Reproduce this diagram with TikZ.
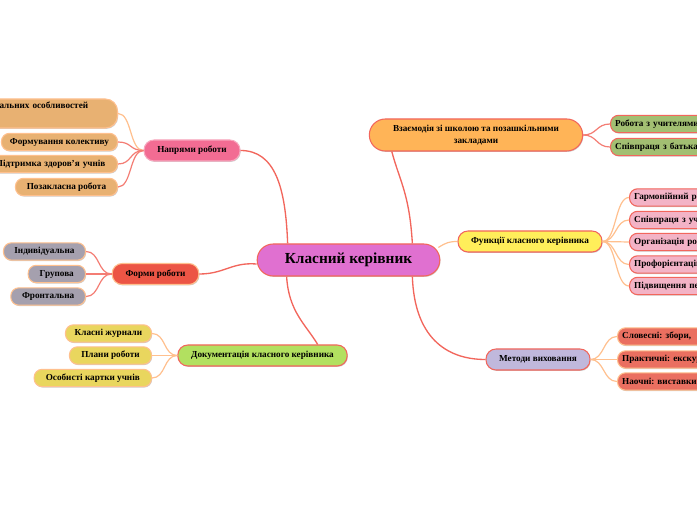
\documentclass[tikz,border=0pt]{standalone}
\usepackage{fontspec}
\setmainfont{Liberation Serif}
\usetikzlibrary{calc,shadows}
\frenchspacing

\definecolor{lineRed}{HTML}{F2665C}
\definecolor{linePeach}{HTML}{FFC08E}
\definecolor{rootFill}{HTML}{E070D0}
\definecolor{naprFill}{HTML}{F26C93}
\definecolor{tanFill}{HTML}{E8B172}
\definecolor{formFill}{HTML}{EC5545}
\definecolor{greyFill}{HTML}{A5A0AE}
\definecolor{dokFill}{HTML}{B2E060}
\definecolor{yelFill}{HTML}{E9D65E}
\definecolor{vzFill}{HTML}{FFB457}
\definecolor{greenFill}{HTML}{A2BF72}
\definecolor{funFill}{HTML}{FFEE5A}
\definecolor{pinkFill}{HTML}{F3B3C6}
\definecolor{metFill}{HTML}{C0B8DC}
\definecolor{salFill}{HTML}{EA6F60}

\tikzset{
  softshadow/.style={drop shadow={shadow xshift=0.5pt,shadow yshift=-0.7pt,opacity=0.2,fill=black}},
  topic/.style={draw=lineRed,line width=0.8pt,rounded corners=7.5pt,minimum height=15.75pt,
    inner xsep=4pt,inner ysep=2pt,softshadow},
  leaf/.style={draw=linePeach,line width=0.8pt,rounded corners=6pt,minimum height=13pt,
    inner xsep=4pt,inner ysep=1.5pt,softshadow},
  leafR/.style={leaf,draw=lineRed,anchor=west,text width=110pt,align=left,inner xsep=3.5pt},
  branch/.style={draw=lineRed,line width=1pt},
  twig/.style={draw=linePeach,line width=0.9pt},
  twigR/.style={draw=lineRed!85,line width=0.9pt}
}

\begin{document}
\begin{tikzpicture}[x=0.75pt,y=-0.75pt,font=\bfseries\fontsize{6.9}{9}\selectfont]
    \clip (0,0) rectangle (697,520);
    \fill[white] (0,0) rectangle (697,520);

    % root
    \node[topic,fill=rootFill,minimum width=137pt,minimum height=24pt,rounded corners=12pt,
        font=\bfseries\fontsize{11.5}{14}\selectfont] (kk) at (348.5,260) {Класний керівник};

    % main topics
    \node[topic,fill=naprFill,draw=naprFill!60!white,minimum width=72pt] (napr) at (192,150.5) {Напрями роботи};
    \node[topic,fill=formFill,draw=linePeach,minimum width=65pt] (form) at (155.5,274) {Форми роботи};
    \node[topic,fill=dokFill,minimum width=127pt] (dok) at (262.5,355.5) {Документація класного керівника};
    \node[topic,fill=vzFill,minimum width=160pt,minimum height=24pt,rounded corners=12pt,align=center] (vz)
        at (476,135) {\raisebox{-1.5pt}{Взаємодія зі школою та позашкільними}\\\raisebox{-1.5pt}{закладами}};
    \node[topic,fill=funFill,minimum width=108pt] (fun) at (530,241.5) {Функції класного керівника};
    \node[topic,fill=metFill,minimum width=78pt] (met) at (538,359.5) {Методи виховання};

    % Напрями роботи
    \node[leaf,fill=tanFill,anchor=east,minimum height=21.75pt,text width=200pt,align=right,inner xsep=22pt,
        rounded corners=9pt] (n1) at (118,113.5) {індивідуальних особливостей\\\strut};
    \node[leaf,fill=tanFill,anchor=east,minimum width=87pt] (n2) at (118,142) {Формування колективу};
    \node[leaf,fill=tanFill,anchor=east,text width=100pt,align=right,inner xsep=9pt] (n3) at (118,164) {Підтримка здоров’я учнів};
    \node[leaf,fill=tanFill,anchor=east,minimum width=76.5pt] (n4) at (118,187) {Позакласна робота};

    % Форми роботи
    \node[leaf,fill=greyFill,anchor=east,minimum width=61.5pt] (f1) at (86,251.5) {Індивідуальна};
    \node[leaf,fill=greyFill,anchor=east,minimum width=43pt] (f2) at (86,274) {Групова};
    \node[leaf,fill=greyFill,anchor=east,minimum width=56pt] (f3) at (86,296.5) {Фронтальна};

    % Документація
    \node[leaf,fill=yelFill,anchor=east,minimum width=64.5pt] (d1) at (152,333.5) {Класні журнали};
    \node[leaf,fill=yelFill,anchor=east,minimum width=61.5pt] (d2) at (152,355.5) {Плани роботи};
    \node[leaf,fill=yelFill,anchor=east,minimum width=88pt] (d3) at (152,378) {Особисті картки учнів};

    % Взаємодія
    \node[leafR,fill=greenFill] (v1) at (610,124) {Робота з учителями};
    \node[leafR,fill=greenFill] (v2) at (610,147) {Співпраця з батьками};

    % Функції
    \node[leafR,fill=pinkFill] (u1) at (629,197.5) {Гармонійний розвиток};
    \node[leafR,fill=pinkFill] (u2) at (629,220) {Співпраця з учнями};
    \node[leafR,fill=pinkFill] (u3) at (629,242) {Організація роботи};
    \node[leafR,fill=pinkFill] (u4) at (629,264.5) {Профорієнтаційна};
    \node[leafR,fill=pinkFill] (u5) at (629,286) {Підвищення педагогічної};

    % Методи
    \node[leafR,fill=salFill,draw=linePeach] (m1) at (617,336.5) {Словесні: збори,};
    \node[leafR,fill=salFill,draw=linePeach] (m2) at (617,359.5) {Практичні: екскурсії};
    \node[leafR,fill=salFill,draw=linePeach] (m3) at (617,381.5) {Наочні: виставки};

    % branches from the root
    \draw[branch] ($(kk.north west)+(31,0)$) .. controls +(-2,-55) and +(35,0) .. (napr.east);
    \draw[branch] ($(kk.west)+(0,4)$) .. controls +(-25,-2) and +(25,0) .. (form.east);
    \draw[branch] ($(kk.south west)+(30,0)$) .. controls +(2,35) and +(-12,-20) .. ($(dok.north east)+(-30,0)$);
    \draw[branch] ($(kk.north east)+(-28,0)$) .. controls +(-3,-50) and +(8,30) .. ($(vz.south west)+(23,0)$);
    \draw[twig] ($(kk.north east)+(-2,4)$) .. controls +(8,-5) and +(-8,0) .. (fun.west);
    \draw[branch] ($(kk.south east)+(-28,0)$) .. controls +(2,60) and +(-40,0) .. (met.west);

    % twigs
    \draw[twig] (napr.west) .. controls +(-14,0) and +(14,0) .. (n1.east);
    \foreach \k in {n2,n3,n4}
        \draw[twigR] (napr.west) .. controls +(-14,0) and +(14,0) .. (\k.east);
    \foreach \k in {f1,f2,f3}
        \draw[twigR] (form.west) .. controls +(-14,0) and +(14,0) .. (\k.east);
    \foreach \k in {d1,d2,d3}
        \draw[twig] (dok.west) .. controls +(-14,0) and +(14,0) .. (\k.east);
    \foreach \k in {v1,v2}
        \draw[twigR] (vz.east) .. controls +(14,0) and +(-14,0) .. (\k.west);
    \foreach \k in {u1,u2,u3,u4,u5}
        \draw[twig] (fun.east) .. controls +(14,0) and +(-14,0) .. (\k.west);
    \foreach \k in {m1,m2,m3}
        \draw[twig] (met.east) .. controls +(14,0) and +(-14,0) .. (\k.west);
\end{tikzpicture}
\end{document}
